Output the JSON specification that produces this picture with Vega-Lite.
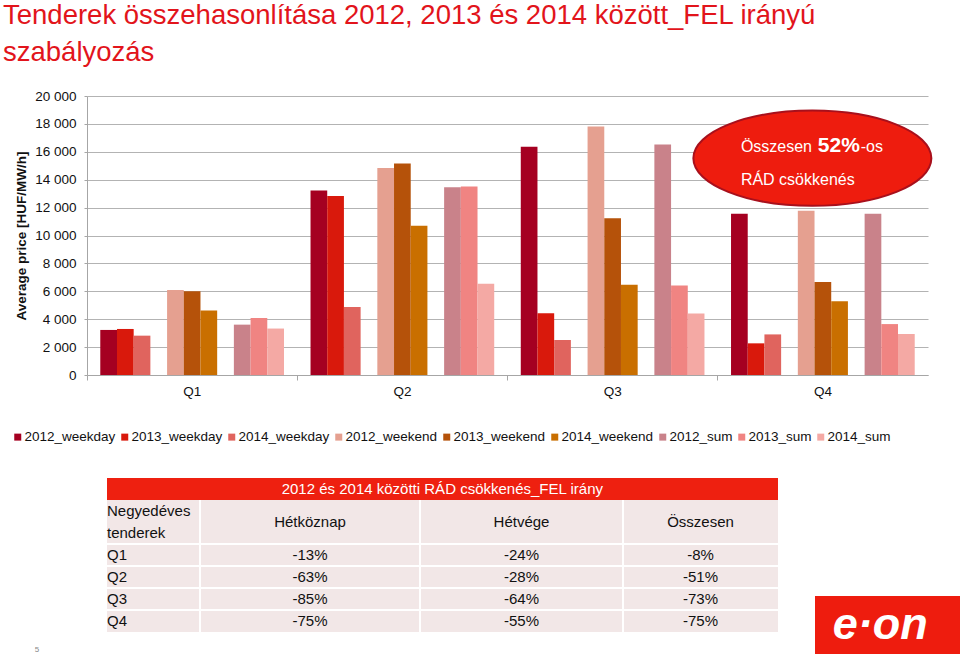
{
  "$schema": "https://vega.github.io/schema/vega-lite/v6.json",
  "padding": {"left": 3, "top": 1, "right": 0, "bottom": 0},
  "background": "white",
  "config": {
    "font": "Liberation Sans",
    "view": {"stroke": null},
    "locale": {"number": {"decimal": ",", "thousands": " ", "grouping": [3], "currency": ["", ""]}}
  },
  "title": {
    "text": ["Tenderek összehasonlítása 2012, 2013 és 2014 között_FEL irányú", "szabályozás"],
    "anchor": "start",
    "fontSize": 27.5,
    "lineHeight": 37,
    "fontWeight": "normal",
    "color": "#E2141B",
    "font": "Liberation Sans",
    "dx": -8,
    "offset": 23
  },
  "spacing": 103,
  "bounds": "flush",
  "vconcat": [
    {
      "width": 841,
      "height": 279,
      "data": {"values": [
        {"quarter": "Q1", "series": "2012_weekday", "value": 3230},
        {"quarter": "Q1", "series": "2013_weekday", "value": 3300},
        {"quarter": "Q1", "series": "2014_weekday", "value": 2820},
        {"quarter": "Q1", "series": "2012_weekend", "value": 6090},
        {"quarter": "Q1", "series": "2013_weekend", "value": 6000},
        {"quarter": "Q1", "series": "2014_weekend", "value": 4630},
        {"quarter": "Q1", "series": "2012_sum", "value": 3610},
        {"quarter": "Q1", "series": "2013_sum", "value": 4080},
        {"quarter": "Q1", "series": "2014_sum", "value": 3330},
        {"quarter": "Q2", "series": "2012_weekday", "value": 13230},
        {"quarter": "Q2", "series": "2013_weekday", "value": 12830},
        {"quarter": "Q2", "series": "2014_weekday", "value": 4870},
        {"quarter": "Q2", "series": "2012_weekend", "value": 14840},
        {"quarter": "Q2", "series": "2013_weekend", "value": 15170},
        {"quarter": "Q2", "series": "2014_weekend", "value": 10700},
        {"quarter": "Q2", "series": "2012_sum", "value": 13450},
        {"quarter": "Q2", "series": "2013_sum", "value": 13520},
        {"quarter": "Q2", "series": "2014_sum", "value": 6540},
        {"quarter": "Q3", "series": "2012_weekday", "value": 16370},
        {"quarter": "Q3", "series": "2013_weekday", "value": 4420},
        {"quarter": "Q3", "series": "2014_weekday", "value": 2510},
        {"quarter": "Q3", "series": "2012_weekend", "value": 17820},
        {"quarter": "Q3", "series": "2013_weekend", "value": 11230},
        {"quarter": "Q3", "series": "2014_weekend", "value": 6470},
        {"quarter": "Q3", "series": "2012_sum", "value": 16530},
        {"quarter": "Q3", "series": "2013_sum", "value": 6420},
        {"quarter": "Q3", "series": "2014_sum", "value": 4400},
        {"quarter": "Q4", "series": "2012_weekday", "value": 11560},
        {"quarter": "Q4", "series": "2013_weekday", "value": 2270},
        {"quarter": "Q4", "series": "2014_weekday", "value": 2910},
        {"quarter": "Q4", "series": "2012_weekend", "value": 11780},
        {"quarter": "Q4", "series": "2013_weekend", "value": 6670},
        {"quarter": "Q4", "series": "2014_weekend", "value": 5280},
        {"quarter": "Q4", "series": "2012_sum", "value": 11560},
        {"quarter": "Q4", "series": "2013_sum", "value": 3650},
        {"quarter": "Q4", "series": "2014_sum", "value": 2940}
      ]},
      "resolve": {"axis": {"x": "independent"}},
      "layer": [
        {
          "mark": {"type": "bar"},
          "encoding": {
            "x": {
              "field": "quarter", "type": "nominal",
              "scale": {"paddingInner": 0, "paddingOuter": 0},
              "axis": {"orient": "bottom", "title": null, "labelAngle": 0, "ticks": false, "grid": false,
                       "labelFontSize": 13.5, "labelColor": "#111", "labelPadding": 9, "domainColor": "#A6A6A6"}
            },
            "xOffset": {
              "field": "series", "type": "nominal",
              "scale": {"domain": ["2012_weekday", "2013_weekday", "2014_weekday", "gap1", "2012_weekend", "2013_weekend", "2014_weekend", "gap2", "2012_sum", "2013_sum", "2014_sum"],
                        "paddingInner": 0, "paddingOuter": 0.795}
            },
            "y": {
              "field": "value", "type": "quantitative",
              "scale": {"domain": [0, 20000], "nice": false},
              "axis": {"title": "Average price [HUF/MW/h]", "values": [0, 2000, 4000, 6000, 8000, 10000, 12000, 14000, 16000, 18000, 20000], "tickCount": 11,
                       "labelOverlap": false, "format": ",d", "grid": true, "gridColor": "#B3B3B3", "domainColor": "#A6A6A6", "tickColor": "#A6A6A6",
                       "tickSize": 3, "labelFontSize": 13.5, "labelPadding": 8, "labelColor": "#111",
                       "titleFontSize": 13.5, "titleFontWeight": "bold", "titleColor": "#111", "titlePadding": 6}
            },
            "color": {
              "field": "series", "type": "nominal",
              "scale": {
                "domain": ["2012_weekday", "2013_weekday", "2014_weekday", "2012_weekend", "2013_weekend", "2014_weekend", "2012_sum", "2013_sum", "2014_sum"],
                "range": ["#A50021", "#D9190C", "#E0645E", "#E5A090", "#B5520A", "#C96F00", "#C9828A", "#F08482", "#F4A9A4"]
              },
              "legend": {"orient": "none", "legendX": -76, "legendY": 334, "direction": "horizontal", "columns": 9,
                         "title": null, "symbolType": "square", "symbolSize": 49, "symbolStrokeWidth": 0,
                         "labelFontSize": 13.5, "labelColor": "#111", "labelOffset": 0, "columnPadding": 2, "labelLimit": 0}
            }
          }
        },
        {
          "data": {"values": [{}]},
          "mark": {"type": "point", "shape": "M-1,0A1,0.4,0,1,1,1,0A1,0.4,0,1,1,-1,0Z", "size": 56644,
                   "filled": true, "fill": "#EE1C0E", "stroke": "#A8101C", "strokeWidth": 2, "opacity": 1},
          "encoding": {
            "x": {"datum": "Q4", "bandPosition": 0.45,
                  "axis": {"orient": "bottom", "bandPosition": 0, "labels": false, "domain": false, "grid": false,
                           "ticks": true, "tickSize": 5, "tickColor": "#A6A6A6", "title": null}},
            "y": {"datum": 15540, "type": "quantitative"}
          }
        },
        {
          "data": {"values": [{}]},
          "mark": {"type": "text", "text": "Összesen", "align": "left", "baseline": "alphabetic", "fontSize": 16, "color": "white"},
          "encoding": {
            "x": {"datum": "Q4", "bandPosition": 0.11, "axis": null},
            "y": {"datum": 16000, "type": "quantitative"}
          }
        },
        {
          "data": {"values": [{}]},
          "mark": {"type": "text", "text": "52%", "align": "left", "baseline": "alphabetic", "fontSize": 21, "fontWeight": "bold", "color": "white"},
          "encoding": {
            "x": {"datum": "Q4", "bandPosition": 0.476, "axis": null},
            "y": {"datum": 16000, "type": "quantitative"}
          }
        },
        {
          "data": {"values": [{}]},
          "mark": {"type": "text", "text": "-os", "align": "left", "baseline": "alphabetic", "fontSize": 16, "color": "white"},
          "encoding": {
            "x": {"datum": "Q4", "bandPosition": 0.68, "axis": null},
            "y": {"datum": 16000, "type": "quantitative"}
          }
        },
        {
          "data": {"values": [{}]},
          "mark": {"type": "text", "text": "RÁD csökkenés", "align": "left", "baseline": "alphabetic", "fontSize": 16, "color": "white"},
          "encoding": {
            "x": {"datum": "Q4", "bandPosition": 0.11, "axis": null},
            "y": {"datum": 13640, "type": "quantitative"}
          }
        }
      ]
    },
    {
      "width": 873,
      "height": 176,
      "data": {"values": [
        {"q": "Q1", "weekday": "-13%", "weekend": "-24%", "total": "-8%"},
        {"q": "Q2", "weekday": "-63%", "weekend": "-28%", "total": "-51%"},
        {"q": "Q3", "weekday": "-85%", "weekend": "-64%", "total": "-73%"},
        {"q": "Q4", "weekday": "-75%", "weekend": "-55%", "total": "-75%"}
      ]},
      "layer": [
        {
          "data": {"values": [{}]},
          "mark": {"type": "rect", "fill": "#EE2010"},
          "encoding": {
            "x": {"datum": 0, "type": "quantitative",
                  "scale": {"domain": [-1, 0, 1, 2, 3, 4, 5, 6], "range": [-50, 20, 113, 333, 536, 691, 728, 873], "nice": false, "zero": false},
                  "axis": null},
            "x2": {"datum": 4},
            "y": {"datum": "title", "type": "nominal",
                  "scale": {"type": "band", "domain": ["title", "h1", "h2", "Q1", "Q2", "Q3", "Q4", "end"], "paddingInner": 0, "paddingOuter": 0},
                  "axis": null}
          }
        },
        {
          "data": {"values": [{}]},
          "mark": {"type": "rect", "fill": "#F2E7E7"},
          "encoding": {
            "x": {"datum": 0, "type": "quantitative", "axis": null},
            "x2": {"datum": 4},
            "y": {"datum": "h1", "type": "nominal", "bandPosition": 0, "axis": null},
            "y2": {"datum": "Q4", "bandPosition": 1}
          }
        },
        {
          "mark": {"type": "rule", "color": "white", "strokeWidth": 2},
          "encoding": {
            "x": {"datum": 0, "type": "quantitative", "axis": null},
            "x2": {"datum": 4},
            "y": {"field": "q", "type": "nominal", "bandPosition": 0, "axis": null}
          }
        },
        {
          "data": {"values": [{}]},
          "mark": {"type": "rule", "color": "white", "strokeWidth": 2},
          "encoding": {
            "x": {"datum": 1, "type": "quantitative", "axis": null},
            "y": {"datum": "h1", "type": "nominal", "bandPosition": 0, "axis": null},
            "y2": {"datum": "Q4", "bandPosition": 1}
          }
        },
        {
          "data": {"values": [{}]},
          "mark": {"type": "rule", "color": "white", "strokeWidth": 2},
          "encoding": {
            "x": {"datum": 2, "type": "quantitative", "axis": null},
            "y": {"datum": "h1", "type": "nominal", "bandPosition": 0, "axis": null},
            "y2": {"datum": "Q4", "bandPosition": 1}
          }
        },
        {
          "data": {"values": [{}]},
          "mark": {"type": "rule", "color": "white", "strokeWidth": 2},
          "encoding": {
            "x": {"datum": 3, "type": "quantitative", "axis": null},
            "y": {"datum": "h1", "type": "nominal", "bandPosition": 0, "axis": null},
            "y2": {"datum": "Q4", "bandPosition": 1}
          }
        },
        {
          "data": {"values": [{}]},
          "mark": {"type": "text", "text": "2012 és 2014 közötti RÁD csökkenés_FEL irány", "align": "center", "baseline": "middle", "fontSize": 15, "color": "white"},
          "encoding": {
            "x": {"datum": 2.11, "type": "quantitative", "axis": null},
            "y": {"datum": "title", "type": "nominal", "axis": null}
          }
        },
        {
          "data": {"values": [{}]},
          "mark": {"type": "text", "text": "Negyedéves", "align": "left", "baseline": "middle", "fontSize": 15, "color": "#111"},
          "encoding": {
            "x": {"datum": 0, "type": "quantitative", "axis": null},
            "y": {"datum": "h1", "type": "nominal", "axis": null}
          }
        },
        {
          "data": {"values": [{}]},
          "mark": {"type": "text", "text": "tenderek", "align": "left", "baseline": "middle", "fontSize": 15, "color": "#111"},
          "encoding": {
            "x": {"datum": 0, "type": "quantitative", "axis": null},
            "y": {"datum": "h2", "type": "nominal", "axis": null}
          }
        },
        {
          "data": {"values": [{}]},
          "mark": {"type": "text", "text": "Hétköznap", "align": "center", "baseline": "middle", "fontSize": 15, "color": "#111"},
          "encoding": {
            "x": {"datum": 1.5, "type": "quantitative", "axis": null},
            "y": {"datum": "h1", "type": "nominal", "bandPosition": 1, "axis": null}
          }
        },
        {
          "data": {"values": [{}]},
          "mark": {"type": "text", "text": "Hétvége", "align": "center", "baseline": "middle", "fontSize": 15, "color": "#111"},
          "encoding": {
            "x": {"datum": 2.5, "type": "quantitative", "axis": null},
            "y": {"datum": "h1", "type": "nominal", "bandPosition": 1, "axis": null}
          }
        },
        {
          "data": {"values": [{}]},
          "mark": {"type": "text", "text": "Összesen", "align": "center", "baseline": "middle", "fontSize": 15, "color": "#111"},
          "encoding": {
            "x": {"datum": 3.5, "type": "quantitative", "axis": null},
            "y": {"datum": "h1", "type": "nominal", "bandPosition": 1, "axis": null}
          }
        },
        {
          "mark": {"type": "text", "align": "left", "baseline": "middle", "fontSize": 15, "color": "#111"},
          "encoding": {
            "x": {"datum": 0, "type": "quantitative", "axis": null},
            "y": {"field": "q", "type": "nominal", "axis": null},
            "text": {"field": "q"}
          }
        },
        {
          "mark": {"type": "text", "align": "center", "baseline": "middle", "fontSize": 15, "color": "#111"},
          "encoding": {
            "x": {"datum": 1.5, "type": "quantitative", "axis": null},
            "y": {"field": "q", "type": "nominal", "axis": null},
            "text": {"field": "weekday"}
          }
        },
        {
          "mark": {"type": "text", "align": "center", "baseline": "middle", "fontSize": 15, "color": "#111"},
          "encoding": {
            "x": {"datum": 2.5, "type": "quantitative", "axis": null},
            "y": {"field": "q", "type": "nominal", "axis": null},
            "text": {"field": "weekend"}
          }
        },
        {
          "mark": {"type": "text", "align": "center", "baseline": "middle", "fontSize": 15, "color": "#111"},
          "encoding": {
            "x": {"datum": 3.5, "type": "quantitative", "axis": null},
            "y": {"field": "q", "type": "nominal", "axis": null},
            "text": {"field": "total"}
          }
        },
        {
          "data": {"values": [{}]},
          "mark": {"type": "rect", "fill": "#EE1C0E"},
          "encoding": {
            "x": {"datum": 5, "type": "quantitative", "axis": null},
            "x2": {"datum": 6},
            "y": {"datum": "Q3", "type": "nominal", "bandPosition": 0.36, "axis": null},
            "y2": {"datum": "end", "bandPosition": 1}
          }
        },
        {
          "data": {"values": [{}]},
          "mark": {"type": "text", "text": "e·on", "align": "center", "baseline": "middle", "fontSize": 45, "fontWeight": "bold", "fontStyle": "italic", "color": "white"},
          "encoding": {
            "x": {"datum": 5.45, "type": "quantitative", "axis": null},
            "y": {"datum": "Q4", "type": "nominal", "bandPosition": 0.7, "axis": null}
          }
        },
        {
          "data": {"values": [{}]},
          "mark": {"type": "text", "text": "5", "align": "center", "baseline": "middle", "fontSize": 8, "color": "#888"},
          "encoding": {
            "x": {"datum": -1, "type": "quantitative", "axis": null},
            "y": {"datum": "end", "type": "nominal", "bandPosition": 0.8, "axis": null}
          }
        }
      ]
    }
  ]
}
